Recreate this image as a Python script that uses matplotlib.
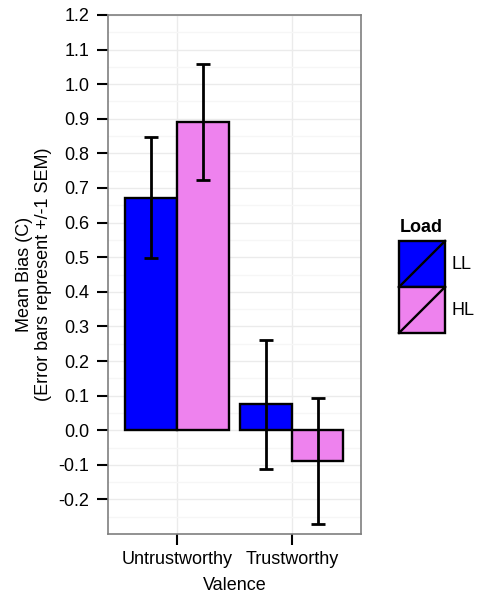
import numpy as np
import matplotlib
matplotlib.use("Agg")
import matplotlib.pyplot as plt
from matplotlib.patches import Rectangle
from matplotlib.lines import Line2D
from matplotlib.legend_handler import HandlerBase

plt.rcParams['font.family'] = ['Liberation Sans', 'DejaVu Sans']

valence = ['Untrustworthy', 'Trustworthy']
loads = ['LL', 'HL']
load_colours = ['#0000FF', '#EE82EE']
mean_bias = {'LL': [0.672, 0.075], 'HL': [0.890, -0.089]}
sem = {'LL': [0.174, 0.187], 'HL': [0.167, 0.181]}
y_ticks = [-0.2, -0.1, 0.0, 0.1, 0.2, 0.3, 0.4, 0.5, 0.6, 0.7, 0.8, 0.9, 1.0, 1.1, 1.2]

FS = 13
W, H = 479, 597


class DiagHandler(HandlerBase):
    # filled square with a diagonal stroke, like ggplot's bar key
    def create_artists(self, legend, orig_handle, xdescent, ydescent,
                       width, height, fontsize, trans):
        x0, y0 = -xdescent, -ydescent
        box = Rectangle((x0, y0), width, height,
                        facecolor=orig_handle.get_facecolor(),
                        edgecolor='black', lw=1.7, transform=trans)
        diag = Line2D([x0, x0 + width], [y0, y0 + height],
                      color='black', lw=1.7, transform=trans)
        return [box, diag]


fig = plt.figure(figsize=(W / 100, H / 100), dpi=100)
ax = fig.add_axes([0.2255, 0.1055, 0.5275, 0.8694])

x = np.arange(1, len(valence) + 1)
bw = 0.45
handles = []
for i, ld in enumerate(loads):
    xpos = x + (i - 0.5) * bw
    bars = ax.bar(xpos, mean_bias[ld], width=bw, color=load_colours[i],
                  edgecolor='black', linewidth=1.7, zorder=3, label=ld)
    ax.errorbar(xpos, mean_bias[ld], yerr=sem[ld], fmt='none',
                ecolor='black', elinewidth=2, capsize=5.2, capthick=2,
                zorder=4)
    handles.append(bars.patches[0])

ax.set_xlim(0.4, 2.6)
ax.set_ylim(-0.3, 1.2)
ax.set_xticks(x)
ax.set_xticklabels(valence)
ax.set_yticks(y_ticks)
ax.set_yticklabels(['%.1f' % v for v in y_ticks])
ax.set_yticks(np.arange(-0.25, 1.2, 0.1), minor=True)

ax.grid(True, which='major', color='#ebebeb', lw=1, zorder=0)
ax.grid(True, which='minor', axis='y', color='#f6f6f6', lw=1, zorder=0)
ax.set_axisbelow(True)
ax.tick_params(axis='both', which='major', length=8, width=1.5,
               labelsize=FS, colors='black', pad=5.5)
ax.tick_params(axis='x', which='major', pad=4)
ax.tick_params(axis='both', which='minor', length=0)
for s in ax.spines.values():
    s.set_color('#7f7f7f')
    s.set_linewidth(1.2)

ax.set_ylabel('Mean Bias (C)\n(Error bars represent +/-1 SEM)', fontsize=FS,
              linespacing=1.2)
ax.yaxis.set_label_coords(-0.22, 0.5)
ax.set_xlabel('Valence', fontsize=FS, labelpad=6.8)

# legend: bold title on its own, keys stacked with no gap below it
fig.text(400 / W, 1 - 232 / H, 'Load', fontsize=FS, fontweight='bold',
         ha='left', va='baseline')
leg = fig.legend(handles, loads, handler_map={Rectangle: DiagHandler()},
                 loc='upper left', bbox_to_anchor=(399 / W, 1 - 241 / H),
                 frameon=False, handlelength=2.55, handleheight=3.54,
                 labelspacing=0, handletextpad=0.35, borderpad=0,
                 borderaxespad=0, fontsize=FS)

fig.savefig('out.png', dpi=100)
